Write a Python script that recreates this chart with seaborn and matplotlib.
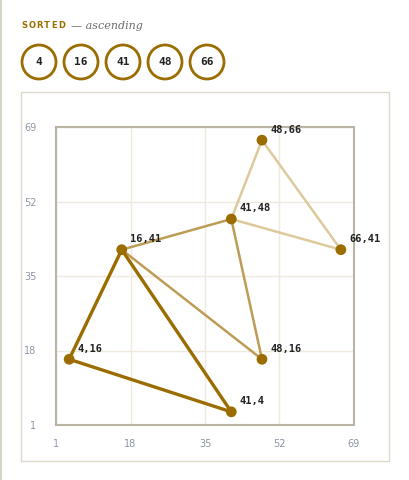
import matplotlib
matplotlib.use("Agg")
import matplotlib.pyplot as plt
import seaborn as sns
import pandas as pd
from matplotlib.patches import Rectangle, Circle

# ---- data ----
sorted_keys = [4, 16, 41, 48, 66]
point_x = [4, 16, 41, 41, 48, 48, 66]
point_y = [16, 41, 4, 48, 16, 66, 41]
tri_dark_x = [4, 16, 41, 4]
tri_dark_y = [16, 41, 4, 16]
tri_mid_x = [16, 41, 48, 16]
tri_mid_y = [41, 48, 16, 41]
tri_light_x = [41, 48, 66, 41]
tri_light_y = [48, 66, 41, 48]
tick_vals = [1, 18, 35, 52, 69]
title_word = "SORTED"
subtitle = "— ascending"

GOLD = "#9b6c00"
MID = "#bd9c55"
LIGHT = "#ddc99c"
GRID = "#efeade"
FRAME = "#bab4a4"
TICK = "#8d95a3"

sns.set_theme(style="white")
plt.rcParams["font.family"] = ["DejaVu Sans"]

fig = plt.figure(figsize=(4.1, 4.8), dpi=100)
fig.patch.set_facecolor("white")

# page edge line and panel border
fig.add_artist(plt.Line2D([0.002, 0.002], [0, 1], color="#d0ccc0", lw=1.2, transform=fig.transFigure))
fig.add_artist(Rectangle((21 / 410, 1 - 461 / 480), 368 / 410, 369 / 480, transform=fig.transFigure,
                         fill=False, edgecolor="#dcd8ca", lw=1.0))

# header (letter-spaced)
for i, ch in enumerate(title_word):
    fig.text((24.5 + i * 7.4) / 410, 1 - 26 / 480, ch, fontsize=6, fontweight="bold", color=GOLD,
             ha="center", va="center", family="DejaVu Sans")
fig.text(71 / 410, 1 - 26 / 480, subtitle, fontsize=8, style="italic", color="#6b6b6b",
         ha="left", va="center", family="DejaVu Serif")

for i, k in enumerate(sorted_keys):
    cx = (39 + 42 * i) / 410
    cy = 1 - 62 / 480
    fig.add_artist(Circle((cx * 410, cy * 480), 17, transform=None, fill=False,
                          edgecolor=GOLD, lw=2.0))
    fig.text(cx, cy, str(k), fontsize=8, fontweight="bold", color="#222222",
             ha="center", va="center", family="DejaVu Sans Mono")

ax = fig.add_axes([56 / 410, 1 - 425 / 480, 298 / 410, 298 / 480])
ax.set_xlim(1, 69)
ax.set_ylim(1, 69)
ax.set_xticks(tick_vals)
ax.set_yticks(tick_vals)
ax.set_xticklabels([str(v) for v in tick_vals])
ax.set_yticklabels([str(v) for v in tick_vals])
ax.grid(True, color=GRID, lw=1.0)
ax.set_axisbelow(True)
for s in ax.spines.values():
    s.set_color(FRAME)
    s.set_linewidth(1.5)
ax.tick_params(axis="both", length=0, labelsize=7, labelcolor=TICK)
ax.tick_params(axis="x", pad=10)
ax.tick_params(axis="y", pad=14)

ax.plot(tri_light_x, tri_light_y, color=LIGHT, lw=1.8, solid_capstyle="round", zorder=2)
ax.plot(tri_mid_x, tri_mid_y, color=MID, lw=1.8, solid_capstyle="round", zorder=3)
ax.plot(tri_dark_x, tri_dark_y, color=GOLD, lw=2.4, solid_capstyle="round", zorder=4)

df = pd.DataFrame({"x": point_x, "y": point_y})
sns.scatterplot(data=df, x="x", y="y", ax=ax, s=60, color=GOLD, edgecolor="none", zorder=5, legend=False)
ax.set_xlabel("")
ax.set_ylabel("")

for x, y in zip(point_x, point_y):
    ax.annotate(f"{x},{y}", (x, y), xytext=(6, 4), textcoords="offset points",
                fontsize=7.5, fontweight="bold", color="#222222", family="DejaVu Sans Mono",
                ha="left", va="bottom", zorder=6)

fig.savefig("out.png", dpi=100, facecolor="white")
